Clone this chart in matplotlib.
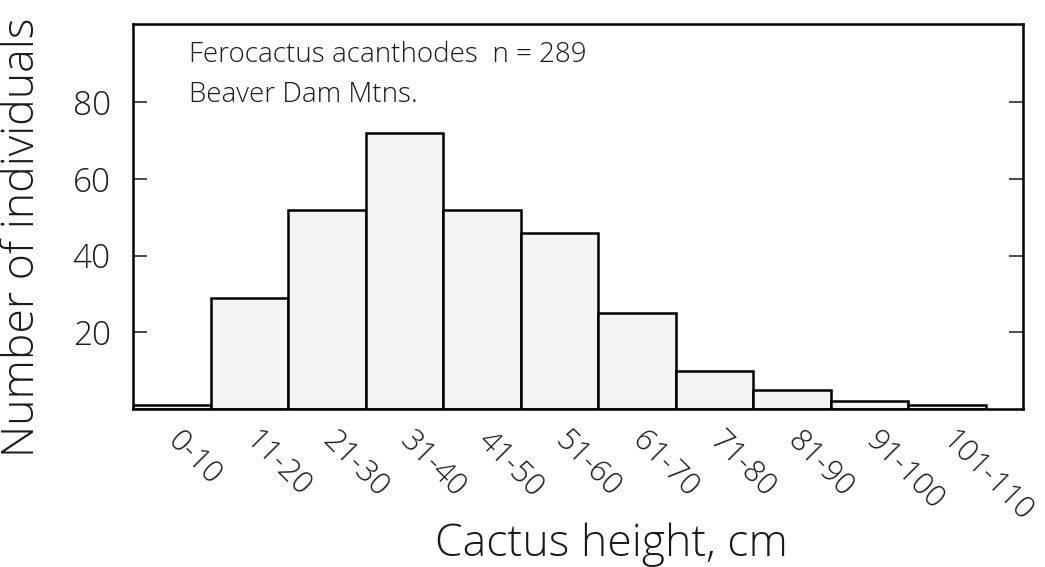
import numpy as np
import matplotlib
matplotlib.use('Agg')
import matplotlib.pyplot as plt

# height classes (cm) and number of plants in each
height_classes = ['0-10', '11-20', '21-30', '31-40', '41-50', '51-60',
                  '61-70', '71-80', '81-90', '91-100', '101-110']
counts = [1, 29, 52, 72, 52, 46, 25, 10, 5, 2, 1]
y_ticks = [20, 40, 60, 80]

plt.rcParams['font.family'] = ['Open Sans', 'DejaVu Sans']
plt.rcParams['font.weight'] = 'light'
plt.rcParams['axes.labelweight'] = 'light'

fig = plt.figure(figsize=(10.45, 5.67), dpi=100)
ax = fig.add_axes([0.1273, 0.2787, 0.8517, 0.679])

x = np.arange(len(counts))
ax.bar(x, counts, width=1.0, align='edge', color='#f3f3f3',
       edgecolor='black', linewidth=1.8)

ax.set_xlim(0, 11.48)
ax.set_ylim(0, 100.4)

ax.set_yticks(y_ticks)
ax.tick_params(axis='y', direction='in', length=10, width=1.1,
               left=True, right=True, labelsize=24, pad=16, colors='#1a1a1a')
ax.set_xticks(x + 0.5)
ax.set_xticklabels(height_classes, rotation=-45, ha='left', va='center',
                   rotation_mode='anchor', fontsize=22, color='#1a1a1a')
ax.tick_params(axis='x', length=0, pad=20)

for sp in ax.spines.values():
    sp.set_linewidth(1.8)

ax.set_ylabel('Number of individuals', fontsize=32, va='center', color='#1a1a1a')
ax.yaxis.set_label_coords(-0.124, 0.447)
ax.set_xlabel('Cactus height, cm', fontsize=32, va='center', color='#1a1a1a')
ax.xaxis.set_label_coords(0.537, -0.353)

ax.text(0.063, 0.919, 'Ferocactus acanthodes  n = 289', transform=ax.transAxes,
        fontsize=20, va='center', ha='left', color='#1a1a1a')
ax.text(0.063, 0.815, 'Beaver Dam Mtns.', transform=ax.transAxes,
        fontsize=20, va='center', ha='left', color='#1a1a1a')

fig.savefig('out.png', dpi=100)
